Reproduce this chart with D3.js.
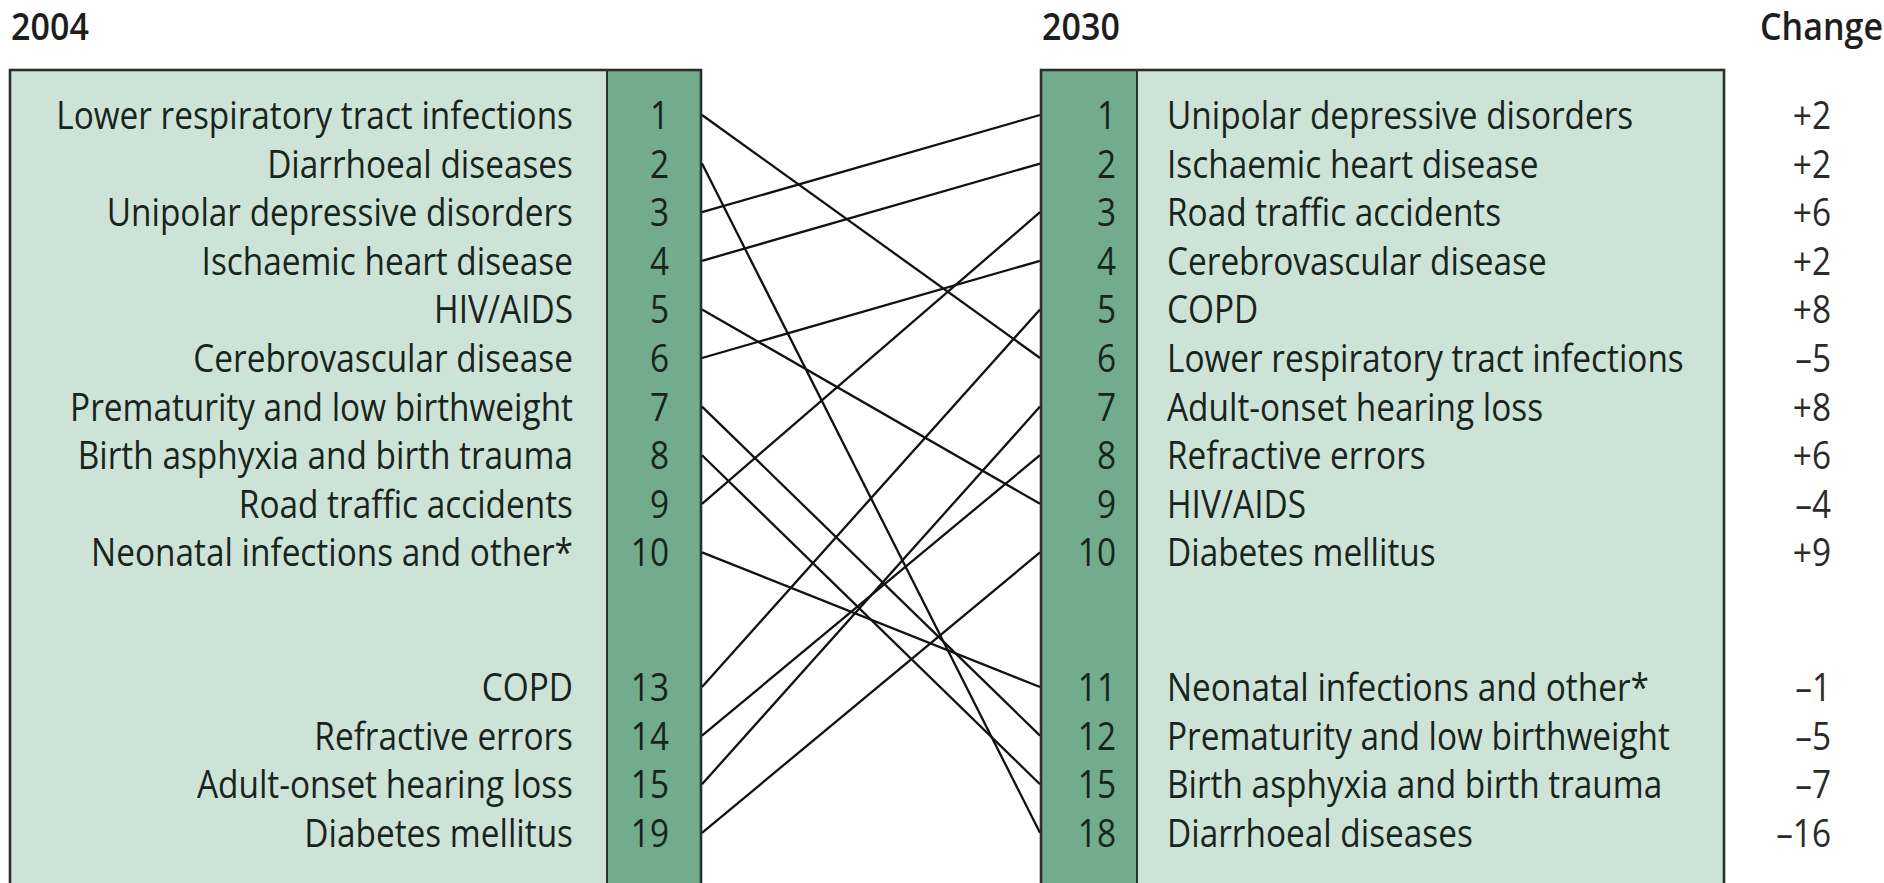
<!DOCTYPE html>
<html>
<head>
<meta charset="utf-8">
<script src="https://cdn.jsdelivr.net/npm/d3@7"></script>
<style>
  html, body { margin: 0; padding: 0; background: #fff; }
  svg { display: block; }
</style>
</head>
<body>
<svg id="chart" width="1884" height="883"></svg>
<script>
// ---------------- DATA ----------------
const causes2004 = [
  "Lower respiratory tract infections",
  "Diarrhoeal diseases",
  "Unipolar depressive disorders",
  "Ischaemic heart disease",
  "HIV/AIDS",
  "Cerebrovascular disease",
  "Prematurity and low birthweight",
  "Birth asphyxia and birth trauma",
  "Road traffic accidents",
  "Neonatal infections and other*",
  "COPD",
  "Refractive errors",
  "Adult-onset hearing loss",
  "Diabetes mellitus"
];
const rank2004 = [1, 2, 3, 4, 5, 6, 7, 8, 9, 10, 13, 14, 15, 19];

const causes2030 = [
  "Unipolar depressive disorders",
  "Ischaemic heart disease",
  "Road traffic accidents",
  "Cerebrovascular disease",
  "COPD",
  "Lower respiratory tract infections",
  "Adult-onset hearing loss",
  "Refractive errors",
  "HIV/AIDS",
  "Diabetes mellitus",
  "Neonatal infections and other*",
  "Prematurity and low birthweight",
  "Birth asphyxia and birth trauma",
  "Diarrhoeal diseases"
];
const rank2030 = [1, 2, 3, 4, 5, 6, 7, 8, 9, 10, 11, 12, 15, 18];
const change2030 = [2, 2, 6, 2, 8, -5, 8, 6, -4, 9, -1, -5, -7, -16];

const titles = ["2004", "2030", "Change"];

// ---------------- LAYOUT / STYLE ----------------
const W = 1884, H = 883;
const FONT = "'Open Sans', 'Noto Sans', sans-serif";
const LABEL_SIZE = 39;
const LONGEST_TARGET = 517;      // calibrated width of longest label
const TITLE_SIZE = 37;
const TITLE_SQUEEZE = 0.92;
const lightFill = "#cee3d7";
const darkFill = "#72ac8c";
const borderCol = "#29312c";
const textCol = "#18241c";

const svg = d3.select("#chart");

// slot positions: first ten rows contiguous, then a gap
const slot = i => i < 10 ? i : i + 1.77;
const y = d3.scaleLinear().domain([0, 1]).range([115, 163.6]);

const L = { boxX0: 10, colX0: 607, colX1: 701, labelEnd: 573, numEnd: 669 };
const R = { colX0: 1041, colX1: 1137, boxX1: 1724, labelStart: 1167, numEnd: 1116, changeEnd: 1831, changeTitleEnd: 1883 };

const boxTop = 70, boxBottom = H + 20;

// measure horizontal squeeze factor for the condensed face
const probe = svg.append("text")
  .attr("font-family", FONT).attr("font-size", LABEL_SIZE)
  .text(causes2004[0]);
const natural = probe.node().getComputedTextLength();
probe.remove();
const k = LONGEST_TARGET / natural;

// place a text at (x, y) squeezed horizontally around its anchor
const place = (sel, xf, yf, sx) => sel
  .attr("transform", (d, i) => `translate(${xf(d, i)},${yf(d, i)}) scale(${sx},1)`);

// ---------------- BOXES ----------------
svg.append("rect").attr("x", L.boxX0).attr("y", boxTop)
  .attr("width", L.colX0 - L.boxX0).attr("height", boxBottom - boxTop)
  .attr("fill", lightFill);
svg.append("rect").attr("x", L.colX0).attr("y", boxTop)
  .attr("width", L.colX1 - L.colX0).attr("height", boxBottom - boxTop)
  .attr("fill", darkFill);
svg.append("rect").attr("x", L.boxX0).attr("y", boxTop)
  .attr("width", L.colX1 - L.boxX0).attr("height", boxBottom - boxTop)
  .attr("fill", "none").attr("stroke", borderCol).attr("stroke-width", 2.6);
svg.append("line").attr("x1", L.colX0).attr("x2", L.colX0)
  .attr("y1", boxTop).attr("y2", boxBottom)
  .attr("stroke", borderCol).attr("stroke-width", 2);

svg.append("rect").attr("x", R.colX0).attr("y", boxTop)
  .attr("width", R.colX1 - R.colX0).attr("height", boxBottom - boxTop)
  .attr("fill", darkFill);
svg.append("rect").attr("x", R.colX1).attr("y", boxTop)
  .attr("width", R.boxX1 - R.colX1).attr("height", boxBottom - boxTop)
  .attr("fill", lightFill);
svg.append("rect").attr("x", R.colX0).attr("y", boxTop)
  .attr("width", R.boxX1 - R.colX0).attr("height", boxBottom - boxTop)
  .attr("fill", "none").attr("stroke", borderCol).attr("stroke-width", 2.6);
svg.append("line").attr("x1", R.colX1).attr("x2", R.colX1)
  .attr("y1", boxTop).attr("y2", boxBottom)
  .attr("stroke", borderCol).attr("stroke-width", 2);

// ---------------- TITLES ----------------
const titleX = [L.boxX0 + 1, R.colX0 + 1, R.changeTitleEnd];
const titleAnchor = ["start", "start", "end"];
svg.selectAll("text.title").data(titles).join("text")
  .attr("class", "title")
  .attr("text-anchor", (d, i) => titleAnchor[i])
  .attr("font-family", FONT).attr("font-size", TITLE_SIZE).attr("font-weight", 600)
  .attr("fill", "#1e1e1e")
  .call(place, (d, i) => titleX[i], () => 40, TITLE_SQUEEZE)
  .text(d => d);

// ---------------- LINKS ----------------
const links = causes2004.map((c, i) => ({ from: i, to: causes2030.indexOf(c) }));
svg.selectAll("line.link").data(links).join("line")
  .attr("class", "link")
  .attr("x1", L.colX1 + 1).attr("y1", d => y(slot(d.from)))
  .attr("x2", R.colX0 - 1).attr("y2", d => y(slot(d.to)))
  .attr("stroke", "#111").attr("stroke-width", 2.3);

// ---------------- TEXT ----------------
const textCommon = sel => sel
  .attr("font-family", FONT).attr("font-size", LABEL_SIZE)
  .attr("fill", textCol).attr("dy", "0.36em");

svg.selectAll("text.l2004").data(causes2004).join("text")
  .attr("class", "l2004").attr("text-anchor", "end")
  .call(textCommon).call(place, () => L.labelEnd, (d, i) => y(slot(i)), k)
  .text(d => d);

svg.selectAll("text.r2004").data(rank2004).join("text")
  .attr("class", "r2004").attr("text-anchor", "end")
  .call(textCommon).call(place, () => L.numEnd, (d, i) => y(slot(i)), k)
  .text(d => d);

svg.selectAll("text.r2030").data(rank2030).join("text")
  .attr("class", "r2030").attr("text-anchor", "end")
  .call(textCommon).call(place, () => R.numEnd, (d, i) => y(slot(i)), k)
  .text(d => d);

svg.selectAll("text.l2030").data(causes2030).join("text")
  .attr("class", "l2030").attr("text-anchor", "start")
  .call(textCommon).call(place, () => R.labelStart, (d, i) => y(slot(i)), k)
  .text(d => d);

const fmtChange = v => (v > 0 ? "+" : "\u2013") + Math.abs(v);
svg.selectAll("text.chg").data(change2030).join("text")
  .attr("class", "chg").attr("text-anchor", "end")
  .call(textCommon).attr("fill", "#2a2a2a")
  .call(place, () => R.changeEnd, (d, i) => y(slot(i)), k)
  .text(fmtChange);
</script>
</body>
</html>
